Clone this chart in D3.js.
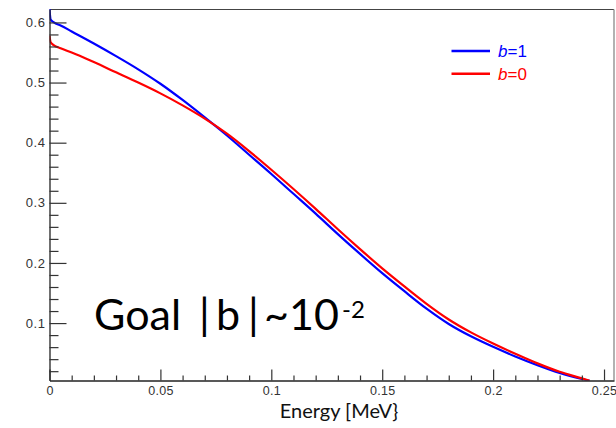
<!DOCTYPE html>
<html>
<head>
<meta charset="utf-8">
<script src="https://cdn.jsdelivr.net/npm/d3@7"></script>
<style>
  html, body { margin: 0; padding: 0; background: #fff; }
  svg { display: block; }
  .tick text { font-family: "Liberation Sans", Arial, sans-serif; fill: #333; }
</style>
</head>
<body>
<svg id="chart" width="616" height="428"></svg>
<script>
// Electron energy spectrum for two values of the Fierz term b
const energy = [0, 0.0005, 0.002, 0.005, 0.01, 0.02, 0.03, 0.04, 0.05, 0.06, 0.07, 0.08,
                0.09, 0.10, 0.11, 0.12, 0.13, 0.14, 0.15, 0.16, 0.17, 0.18, 0.19, 0.20,
                0.21, 0.22, 0.23, 0.24, 0.2435];
const specB1 = [0.622, 0.605, 0.600, 0.595, 0.585, 0.565, 0.544, 0.522, 0.498, 0.471, 0.442, 0.412,
                0.380, 0.348, 0.315, 0.282, 0.248, 0.215, 0.183, 0.153, 0.124, 0.0985, 0.078, 0.0605,
                0.0445, 0.030, 0.017, 0.007, 0.004];
const specB0 = [0.578, 0.567, 0.562, 0.557, 0.550, 0.534, 0.517, 0.500, 0.482, 0.462, 0.440, 0.415,
                0.386, 0.355, 0.323, 0.290, 0.256, 0.223, 0.191, 0.161, 0.132, 0.106, 0.0845, 0.066,
                0.049, 0.033, 0.019, 0.008, 0.004];

const series = [
  { name: "b=1", label: "1", values: specB1, color: "#0000ff" },
  { name: "b=0", label: "0", values: specB0, color: "#ff0000" }
];

const xMajor = [0, 0.05, 0.1, 0.15, 0.2, 0.25];
const xMajorLabels = ["0", "0.05", "0.1", "0.15", "0.2", "0.25"];
const yMajor = [0.1, 0.2, 0.3, 0.4, 0.5, 0.6];
const yMajorLabels = ["0.1", "0.2", "0.3", "0.4", "0.5", "0.6"];

const svg = d3.select("#chart");
const frameL = 49.5, frameR = 614, frameT = 9.5, frameB = 380.5;

const x = d3.scaleLinear().domain([0, 0.2545]).range([frameL, frameR]);
const y = d3.scaleLinear().domain([0.0045, 0.6215]).range([frameB, frameT]);

// minor tick positions
const xMinor = d3.range(0, 0.2545, 0.01).filter(v => xMajor.every(m => Math.abs(m - v) > 1e-6));
const yMinor = d3.range(0.02, 0.62, 0.02).filter(v => yMajor.every(m => Math.abs(m - v) > 1e-6));

// frame: top and right edges
svg.append("line").attr("x1", frameL).attr("x2", frameR).attr("y1", frameT).attr("y2", frameT)
  .attr("stroke", "#444").attr("stroke-width", 1);
svg.append("line").attr("x1", frameR).attr("x2", frameR).attr("y1", frameT).attr("y2", frameB)
  .attr("stroke", "#999").attr("stroke-width", 1.5);

// curves, clipped to the frame
svg.append("clipPath").attr("id", "plotclip").append("rect")
  .attr("x", frameL).attr("y", frameT - 1).attr("width", frameR - frameL).attr("height", frameB - frameT + 1);

const line = d3.line().curve(d3.curveMonotoneX);
const plot = svg.append("g").attr("clip-path", "url(#plotclip)");
series.forEach(s => {
  plot.append("path")
    .attr("d", line(energy.map((e, i) => [x(e), y(s.values[i])])))
    .attr("fill", "none").attr("stroke", s.color).attr("stroke-width", 2.2)
    .attr("stroke-linejoin", "round");
});

// x axis (ticks pointing into the frame)
const xAxis = svg.append("g").attr("transform", `translate(0,${frameB})`)
  .call(d3.axisBottom(x).tickValues(xMajor).tickFormat((d, i) => xMajorLabels[i])
    .tickSizeInner(-11).tickSizeOuter(0).tickPadding(6));
xAxis.selectAll(".tick text").attr("font-size", 12.5).attr("letter-spacing", "0.3px");
svg.append("g").attr("transform", `translate(0,${frameB})`)
  .call(d3.axisBottom(x).tickValues(xMinor).tickFormat("").tickSizeInner(-5).tickSizeOuter(0))
  .select(".domain").remove();

// y axis
const yAxis = svg.append("g").attr("transform", `translate(${frameL},0)`)
  .call(d3.axisLeft(y).tickValues(yMajor).tickFormat((d, i) => yMajorLabels[i])
    .tickSizeInner(-17).tickSizeOuter(0).tickPadding(4));
yAxis.selectAll(".tick text").attr("font-size", 13).attr("letter-spacing", "0.6px");
svg.append("g").attr("transform", `translate(${frameL},0)`)
  .call(d3.axisLeft(y).tickValues(yMinor).tickFormat("").tickSizeInner(-9).tickSizeOuter(0))
  .select(".domain").remove();

svg.selectAll(".domain").attr("stroke", "#222").attr("stroke-width", 1.3);
svg.selectAll(".tick line").attr("stroke", "#333").attr("stroke-width", 1.2);

// legend
const legend = svg.append("g");
series.forEach((s, i) => {
  const ly = 51 + i * 22.7;
  legend.append("line").attr("x1", 451.5).attr("x2", 490).attr("y1", ly).attr("y2", ly)
    .attr("stroke", s.color).attr("stroke-width", 2.5);
  const t = legend.append("text").attr("x", 498).attr("y", ly + 6)
    .attr("font-family", "Liberation Sans, Arial, sans-serif").attr("font-size", 17)
    .attr("fill", s.color);
  t.append("tspan").attr("font-style", "italic").text("b");
  t.append("tspan").text("=" + s.label);
});

// axis title
svg.append("text").attr("x", 339).attr("y", 418).attr("text-anchor", "middle")
  .attr("font-family", "Lato, 'Open Sans', sans-serif").attr("font-size", 20)
  .attr("fill", "#111").text("Energy [MeV}");

// annotation: wide-set glyphs, each piece placed along the baseline
const goal = svg.append("text").attr("y", 330)
  .attr("font-family", "Lato, 'Open Sans', sans-serif").attr("font-size", 43)
  .attr("fill", "#000");
goal.append("tspan").attr("x", 94).text("Goal");
goal.append("tspan").attr("x", 199).text("|");
goal.append("tspan").attr("x", 216).text("b");
goal.append("tspan").attr("x", 248).text("|");
goal.append("tspan").attr("x", 264).text("~10");
goal.append("tspan").attr("x", 342).attr("y", 318).attr("font-size", 24).text("-2");
</script>
</body>
</html>
